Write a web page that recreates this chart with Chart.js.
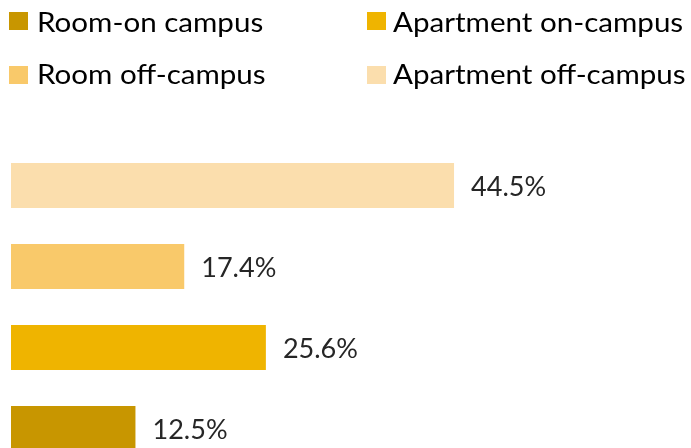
<!DOCTYPE html>
<html>
<head>
<meta charset="utf-8">
<script src="https://cdn.jsdelivr.net/npm/chart.js@4"></script>
<style>
  html, body { margin: 0; padding: 0; overflow: hidden; background: #fff; }
  #wrap { position: relative; width: 691px; height: 448px; overflow: hidden; }
  #chart { position: absolute; left: 0; top: 0; }
  .item { position: absolute; font-family: Lato, sans-serif; font-size: 26px; color: #000; white-space: nowrap; line-height: 1; transform: scaleX(1.137); transform-origin: 0 0; }
  .box { position: absolute; width: 19px; height: 18px; }
</style>
</head>
<body>
<div id="wrap">
  <canvas id="chart" width="691" height="469"></canvas>
  <div id="legend"></div>
</div>
<script>
const categories = ['Room-on campus', 'Apartment on-campus', 'Room off-campus', 'Apartment off-campus'];
const shares = [12.5, 25.6, 17.4, 44.5];
const colors = ['#C89600', '#EFB400', '#F9C96A', '#FBDEAD'];

// legend in two columns, like the original
const legend = document.getElementById('legend');
categories.forEach(function (name, i) {
  const col = i % 2, row = Math.floor(i / 2);
  const box = document.createElement('div');
  box.className = 'box';
  box.style.background = colors[i];
  box.style.left = (col ? 367 : 9) + 'px';
  box.style.top = (row ? 66 : 12) + 'px';
  legend.appendChild(box);
  const txt = document.createElement('div');
  txt.className = 'item';
  txt.textContent = name;
  txt.style.left = (col ? 393 : 37) + 'px';
  txt.style.top = (row ? 61 : 9) + 'px';
  legend.appendChild(txt);
});

const valueLabels = {
  id: 'valueLabels',
  afterDatasetsDraw(chart) {
    const ctx = chart.ctx;
    ctx.save();
    ctx.font = '26px Lato, sans-serif';
    ctx.fillStyle = '#262626';
    ctx.textBaseline = 'middle';
    ctx.textAlign = 'left';
    chart.getDatasetMeta(0).data.forEach(function (bar, i) {
      const x = bar.x + 17, y = bar.y + 2;
      ctx.save();
      ctx.translate(x, y);
      ctx.scale(1.04, 1);
      ctx.fillText(shares[i].toFixed(1) + '%', 0, 0);
      ctx.restore();
    });
    ctx.restore();
  }
};

new Chart(document.getElementById('chart'), {
  type: 'bar',
  data: {
    labels: categories,
    datasets: [{
      data: shares,
      backgroundColor: colors,
      categoryPercentage: 1,
      barPercentage: 0.556
    }]
  },
  options: {
    indexAxis: 'y',
    responsive: false,
    animation: false,
    layout: { padding: { left: 11, right: 0, top: 145, bottom: 0 } },
    scales: {
      x: { display: false, min: 0, max: 68.3 },
      y: { display: false, reverse: true }
    },
    plugins: {
      legend: { display: false },
      tooltip: { enabled: false }
    }
  },
  plugins: [valueLabels]
});
</script>
</body>
</html>
